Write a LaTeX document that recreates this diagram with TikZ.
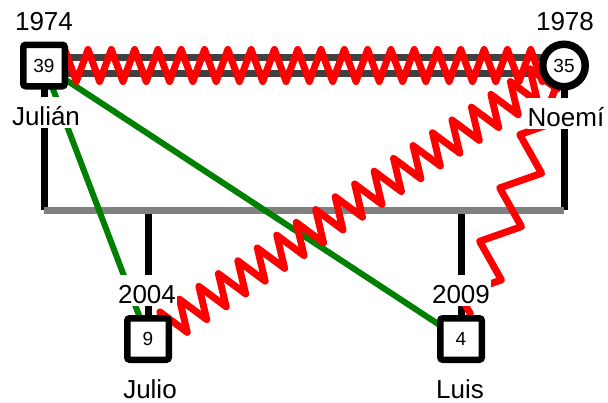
\documentclass[tikz,border=0pt]{standalone}
\usepackage{fontspec}
\setmainfont{Liberation Sans}
\usetikzlibrary{decorations.pathmorphing}
\definecolor{relred}{RGB}{255,0,0}
\definecolor{relgreen}{RGB}{0,128,0}
\definecolor{wedgray}{RGB}{64,64,64}
\definecolor{kidgray}{RGB}{128,128,128}
\begin{document}
\begin{tikzpicture}[x=1pt,y=-1pt,
  male/.style={draw=black, fill=white, line width=6.5pt, rectangle, rounded corners=2.5pt, minimum size=41.5pt, inner sep=0pt, font=\fontsize{19}{19}\selectfont},
  female/.style={draw=black, fill=white, line width=7.5pt, circle, minimum size=42.5pt, inner sep=0pt, font=\fontsize{19}{19}\selectfont},
  lbl/.style={fill=white, inner ysep=0pt, inner xsep=1pt, text height=28pt, text depth=3pt, anchor=base, font=\fontsize{26}{26}\selectfont},
  lowlbl/.style={lbl, text depth=0.5pt},
  descent/.style={draw=black, line width=7pt},
  sibline/.style={draw=kidgray, line width=7pt},
  marriage/.style={draw=wedgray, line width=6.7pt, double=white, double distance=8.9pt},
  closerel/.style={draw=relgreen, line width=6pt},
  hostile/.style={draw=relred, line width=7pt, line join=round, line cap=round, decorate},
]
\useasboundingbox (0,0) rectangle (608,402);
\coordinate (jpos) at (44,65.5);
\coordinate (npos) at (564,65.5);
\coordinate (j2pos) at (148,339);
\coordinate (lpos) at (461,339);
\coordinate (jb) at (44,210);
\coordinate (nb) at (564,210);
\coordinate (c1) at (148,210);
\coordinate (c2) at (461,210);

% descent lines
\draw[descent] (jpos) -- (jb);
\draw[descent] (npos) -- (nb);
\draw[descent] (c1) -- (j2pos);
\draw[descent] (c2) -- (lpos);
\draw[sibline] (jb) -- (nb);
% marriage
\draw[marriage] (jpos) -- (npos);
% close relations
\draw[closerel] (jpos) -- (j2pos);
\draw[closerel] (jpos) -- (lpos);
% hostile relations
\draw[hostile, decoration={zigzag, segment length=23.3pt, amplitude=16pt, pre length=14.9pt}] (jpos) -- (npos);
\draw[hostile, decoration={zigzag, segment length=23.3pt, amplitude=16pt, pre length=19pt}] (j2pos) -- (npos);
\draw[hostile, decoration={zigzag, segment length=57pt, amplitude=17pt, pre length=37.5pt}] (npos) -- (lpos);

% persons
\node[male] (julian) at (jpos) {39};
\node[female] (noemi) at (npos) {35};
\node[male] (julio) at (j2pos) {9};
\node[male] (luis) at (lpos) {4};

% labels
\node[lbl] (yjulian) at (44,30) {1974};
\node[lbl] (ynoemi) at (565,30) {1978};
\node[lbl] (njulian) at (46,125) {Julián};
\node[lbl] (nnoemi) at (566,126) {Noemí};
\node[lbl] (yjulio) at (147,303) {2004};
\node[lbl] (yluis) at (461,303) {2009};
\node[lowlbl] (njulio) at (150,398) {Julio};
\node[lowlbl] (nluis) at (460,398) {Luis};
\end{tikzpicture}
\end{document}
